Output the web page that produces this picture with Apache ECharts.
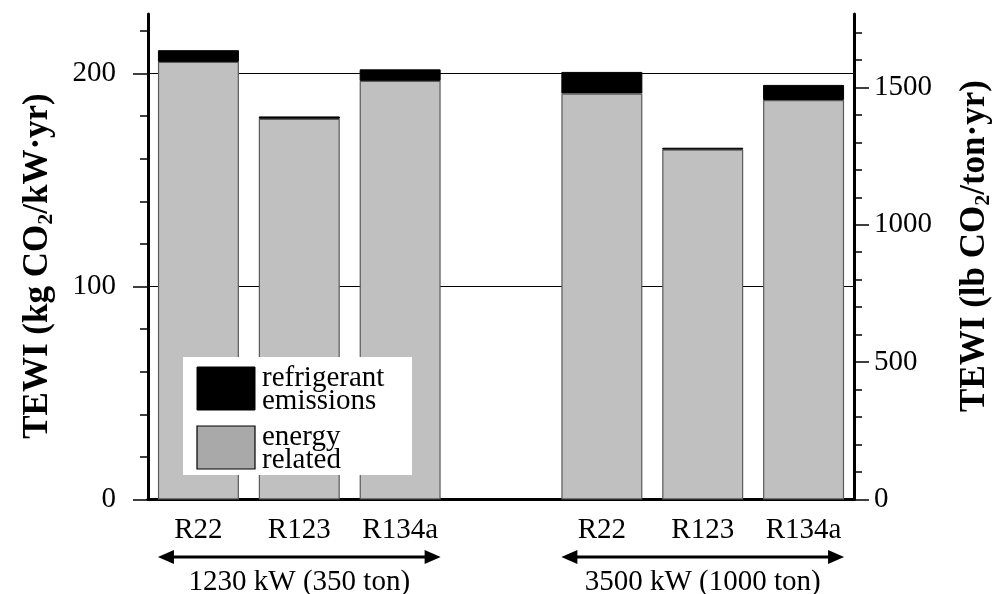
<!DOCTYPE html>
<html><head><meta charset="utf-8">
<script src="https://cdn.jsdelivr.net/npm/echarts@6/dist/echarts.min.js"></script>
<style>html,body{margin:0;padding:0;background:#fff}#c{width:1000px;height:594px}</style>
</head><body><div id="c"></div>
<script>
// ---- data ----
const categories = ['R22', 'R123', 'R134a', '', 'R22', 'R123', 'R134a'];
const energyRelated = [205.5, 178.8, 196.6, null, 190.7, 164.3, 187.6];
const refrigerantEmissions = [5.5, 1.1, 5.4, null, 10.1, 0.9, 7.1];
const groupLabels = ['1230 kW (350 ton)', '3500 kW (1000 ton)'];
const groupRanges = [[0, 2], [4, 6]];
const legendLabels = ['refrigerant\nemissions', 'energy\nrelated'];
const leftMajorTicks = [0, 100, 200];
const leftMinorTicks = [0, 20, 40, 60, 80, 100, 120, 140, 160, 180, 200, 220];
const rightMajorTicks = [0, 500, 1000, 1500];
const rightMinorTicks = [0, 100, 200, 300, 400, 500, 600, 700, 800, 900, 1000, 1100, 1200, 1300, 1400, 1500, 1600, 1700];
const leftMax = 228;
const kgkwToLbton = 7.75;

const FONT = '"Liberation Serif", "DejaVu Serif", serif';
const chart = echarts.init(document.getElementById('c'), null, {renderer: 'canvas'});
const grid = {left: 148, right: 146, top: 14, bottom: 94.5};
const barW = 81;
const FS = 29;

function yAx(pos, max, interval, ticks, major) {
  return {
    type: 'value', position: pos, min: 0, max: max, interval: interval,
    axisLine: {show: major, lineStyle: {color: '#000', width: 3}},
    axisTick: {show: true, inside: false, length: major ? 15 : 8, customValues: ticks,
      lineStyle: {color: '#000', width: 1.5}},
    axisLabel: {show: major, customValues: ticks, fontFamily: FONT, fontSize: FS, color: '#000',
      margin: pos === 'left' ? 32 : 20, formatter: v => String(v)},
    splitLine: {show: major && pos === 'left', lineStyle: {color: '#000', width: 1}},
    minorTick: {show: false}
  };
}

const option = {
  animation: false,
  backgroundColor: '#fff',
  grid: grid,
  xAxis: [
    {type: 'category', data: categories, position: 'bottom',
     axisLine: {lineStyle: {color: '#000', width: 3}}, axisTick: {show: false},
     axisLabel: {fontFamily: FONT, fontSize: FS, color: '#000', margin: 16, interval: 0}},
    {type: 'category', data: categories, position: 'top',
     axisLine: {lineStyle: {color: '#000', width: 3}}, axisTick: {show: false}, axisLabel: {show: false}}
  ],
  yAxis: [
    yAx('left', leftMax, 100, leftMajorTicks, true),
    yAx('left', leftMax, 20, leftMinorTicks, false),
    yAx('right', leftMax * kgkwToLbton, 500, rightMajorTicks, true),
    yAx('right', leftMax * kgkwToLbton, 100, rightMinorTicks, false)
  ],
  series: [
    {name: 'energy related', type: 'bar', stack: 'tewi', yAxisIndex: 0, barWidth: barW,
     data: energyRelated, itemStyle: {color: '#c0c0c0', borderColor: '#5a5a5a', borderWidth: 1.2}},
    {name: 'refrigerant emissions', type: 'bar', stack: 'tewi', yAxisIndex: 0, barWidth: barW,
     data: refrigerantEmissions, itemStyle: {color: '#000', borderColor: '#000', borderWidth: 1}}
  ]
};
chart.setOption(option);

// ---- annotations derived from axis positions ----
const g = [];
const sub = {fontSize: 22, fontWeight: 'bold', fontFamily: FONT, verticalAlign: 'bottom', lineHeight: 25, padding: [10, 0, 0, 0]};
const base = {fontSize: 35, fontWeight: 'bold', fontFamily: FONT, lineHeight: 38};
g.push({type: 'text', x: 38, y: 266, rotation: Math.PI / 2,
  style: {text: '{b|TEWI (kg CO}{s|2}{b|/kW·yr)}', rich: {b: base, s: sub}, align: 'center', verticalAlign: 'middle', fill: '#000'}});
g.push({type: 'text', x: 975, y: 246, rotation: Math.PI / 2,
  style: {text: '{b|TEWI (lb CO}{s|2}{b|/ton·yr)}', rich: {b: base, s: sub}, align: 'center', verticalAlign: 'middle', fill: '#000'}});

const arrowY = 557;
groupRanges.forEach((r, i) => {
  const x0 = chart.convertToPixel({xAxisIndex: 0}, r[0]) - barW / 2;
  const x1 = chart.convertToPixel({xAxisIndex: 0}, r[1]) + barW / 2;
  g.push({type: 'line', shape: {x1: x0 + 10, y1: arrowY, x2: x1 - 10, y2: arrowY}, style: {stroke: '#000', lineWidth: 3}});
  g.push({type: 'polygon', shape: {points: [[x0, arrowY], [x0 + 16, arrowY - 7], [x0 + 16, arrowY + 7]]}, style: {fill: '#000'}});
  g.push({type: 'polygon', shape: {points: [[x1, arrowY], [x1 - 16, arrowY - 7], [x1 - 16, arrowY + 7]]}, style: {fill: '#000'}});
  g.push({type: 'text', x: (x0 + x1) / 2, y: 582,
    style: {text: groupLabels[i], fontFamily: FONT, fontSize: FS, fill: '#000', align: 'center', verticalAlign: 'middle'}});
});

// legend box
g.push({type: 'rect', shape: {x: 183, y: 357, width: 229, height: 118}, style: {fill: '#fff'}, z: 10});
g.push({type: 'rect', shape: {x: 197, y: 367, width: 58, height: 43}, style: {fill: '#000', stroke: '#000', lineWidth: 1}, z: 11});
g.push({type: 'rect', shape: {x: 197, y: 426, width: 58, height: 43}, style: {fill: '#a9a9a9', stroke: '#000', lineWidth: 1.2}, z: 11});
g.push({type: 'text', x: 262, y: 390, z: 11, style: {text: legendLabels[0], fontFamily: FONT, fontSize: FS, lineHeight: 23, fill: '#000', align: 'left', verticalAlign: 'middle'}});
g.push({type: 'text', x: 262, y: 449, z: 11, style: {text: legendLabels[1], fontFamily: FONT, fontSize: FS, lineHeight: 23, fill: '#000', align: 'left', verticalAlign: 'middle'}});

chart.setOption({graphic: g});
</script></body></html>
